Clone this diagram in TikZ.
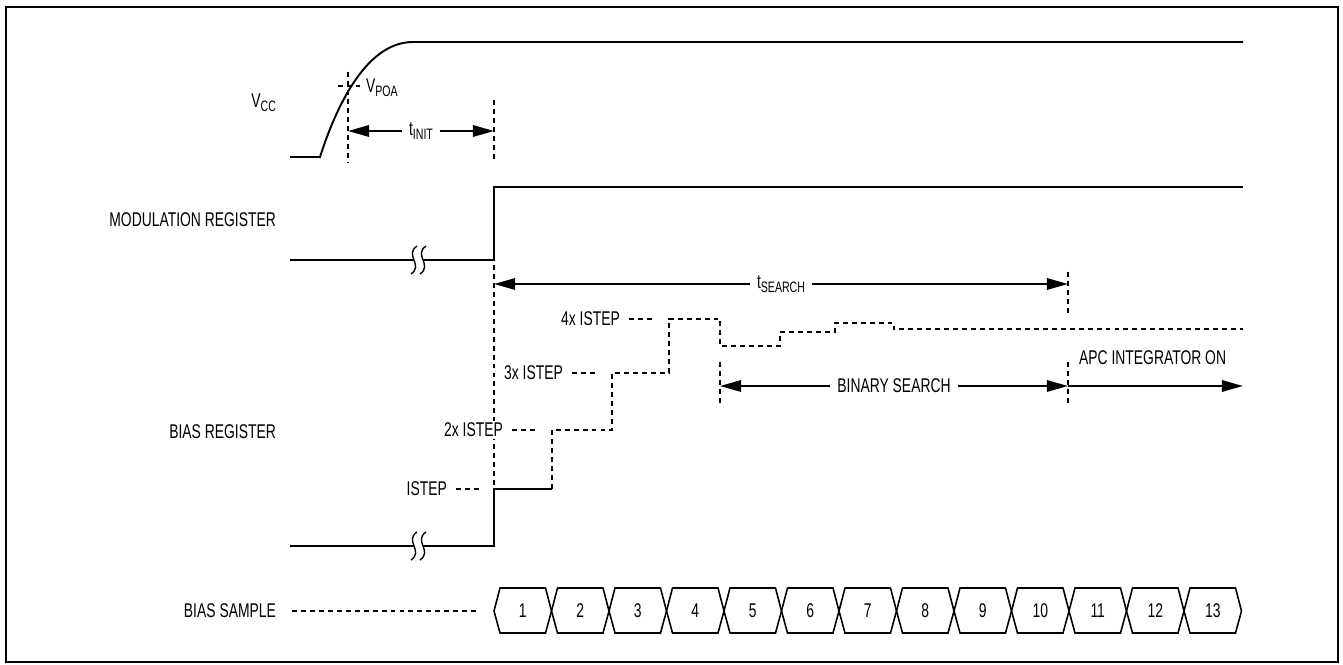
\documentclass[tikz,border=0pt]{standalone}
\usepackage{fontspec}
\setmainfont{Liberation Sans}[FakeStretch=0.70]
\usetikzlibrary{arrows.meta}

\tikzset{
  sig/.style={line width=1.1pt},
  dsh/.style={line width=0.8pt,dash pattern=on 2.8pt off 2.3pt},
  tip/.tip={Triangle[length=12pt,width=6.5pt]},
  dim/.style={line width=1.1pt,tip-tip},
  lbl/.style={font=\fontsize{11.3}{13}\selectfont,inner sep=1pt},
  gap/.style={lbl,fill=white,inner xsep=4pt}
}
\newcommand\lowtxt[1]{\raisebox{-.35ex}{\fontsize{8.6}{10}\selectfont #1}}
\newcommand\breakmark[1]{%
  \begin{scope}[shift={(#1)}]
    \fill[white] (-1,-14) .. controls (-14,-5) and (6,5) .. (-7,14) -- (2,14) .. controls (15,5) and (-5,-5) .. (8,-14) -- cycle;
    \draw[line width=0.8pt] (-1,-14) .. controls (-14,-5) and (6,5) .. (-7,14);
    \draw[line width=0.8pt] (8,-14) .. controls (-5,-5) and (15,5) .. (2,14);
  \end{scope}}

\begin{document}
\begin{tikzpicture}[x=0.02cm,y=-0.02cm]
  \useasboundingbox (0,0) rectangle (1343,665);
  \draw[line width=1.2pt] (6,7) rectangle (1338,662);

  % Vcc
  \node[lbl,anchor=east] (vcc) at (278,103) {V\lowtxt{CC}};
  \draw[sig] (290,157) -- (320,157) .. controls (335,110) and (365,42) .. (413,42) -- (1243,42);
  \draw[dsh] (348,72) -- (348,162); \draw[dsh] (494,100) -- (494,162);
  \draw[dsh] (338,86) -- (360,86);
  \node[lbl,anchor=west] (vpoa) at (364,88) {V\lowtxt{POA}};
  \coordinate (i0) at (348,131); \coordinate (i1) at (494,131);
  \draw[dim] (i0) -- node[gap] (tinit) {t\lowtxt{INIT}} (i1);

  % modulation register
  \node[lbl,anchor=east] (mod) at (278,220) {MODULATION REGISTER};
  \draw[sig] (290,260) -- (494,260) -- (494,187) -- (1243,187);
  \breakmark{418,260}

  % timing marks
  \draw[dsh] (494,265) -- (494,489);
  \draw[dsh] (1068,272) -- (1068,313); \draw[dsh] (1068,362) -- (1068,405);
  \draw[dsh] (720,362) -- (720,405);
  \coordinate (s0) at (494,284); \coordinate (s1) at (1068,284);
  \draw[dim] (s0) -- node[gap] (tsearch) {t\lowtxt{SEARCH}} (s1);
  \coordinate (b0) at (720,386); \coordinate (b1) at (1068,386); \coordinate (b2) at (1243,386);
  \draw[dim] (b0) -- node[gap] (bin) {BINARY SEARCH} (b1);
  \draw[line width=1.1pt,-tip] (b1) -- (b2);
  \node[lbl,anchor=west] (apc) at (1077,358) {APC INTEGRATOR ON};

  % bias register
  \node[lbl,anchor=east] (bias) at (278,432) {BIAS REGISTER};
  \draw[sig] (290,546) -- (494,546) -- (494,489) -- (552,489);
  \draw[dsh] (552,489) -- (552,430) -- (612,430) -- (612,373) -- (669,373) -- (669,319) -- (720,319)
    -- (720,346) -- (780,346) -- (780,332) -- (835,332) -- (835,323) -- (894,323) -- (894,329) -- (1243,329);
  \breakmark{418,546}
  \node[lbl,anchor=east,fill=white] (st1) at (449,489) {ISTEP};
  \node[lbl,anchor=east,fill=white] (st2) at (505,430) {2x ISTEP};
  \node[lbl,anchor=east,fill=white] (st3) at (565,373) {3x ISTEP};
  \node[lbl,anchor=east,fill=white] (st4) at (622,319) {4x ISTEP};
  \foreach \s in {st1,st2,st3,st4}
    \draw[dsh] (\s.east) ++(7,0) -- ++(24,0);

  % bias sample
  \node[lbl,anchor=east] (samp) at (278,611) {BIAS SAMPLE};
  \draw[dsh] (samp.east) ++(14,0) -- (480,611);
  \foreach \k in {1,...,13}{
    \pgfmathsetmacro\xa{494+57.5*(\k-1)}
    \pgfmathsetmacro\xb{\xa+57.5}
    \draw[line width=0.9pt] (\xa,611) -- (\xa+6,588) -- (\xb-6,588) -- (\xb,611) -- (\xb-6,633) -- (\xa+6,633) -- cycle;
    \node[lbl] (n\k) at ({(\xa+\xb)/2},611) {\k};
  }
\end{tikzpicture}
\end{document}
